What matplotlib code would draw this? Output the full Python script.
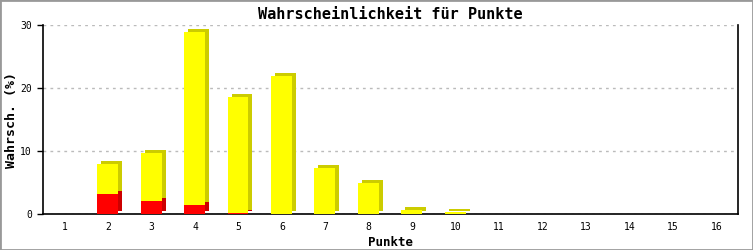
import numpy as np
import matplotlib
matplotlib.use("Agg")
import matplotlib.pyplot as plt
import matplotlib.transforms as mtransforms

# Punkte 1..16, Wahrscheinlichkeit in %
punkte = list(range(1, 17))
gesamt = [0, 7.9, 9.7, 28.9, 18.5, 21.9, 7.3, 4.9, 0.7, 0.3, 0, 0, 0, 0, 0, 0]
rot = [0, 3.2, 2.1, 1.4, 0.15, 0, 0, 0, 0, 0, 0, 0, 0, 0, 0, 0]
gelb = [g - r for g, r in zip(gesamt, rot)]
yticks = [0, 10, 20, 30]

mono = "DejaVu Sans Mono"

fig = plt.figure(figsize=(7.53, 2.5), dpi=100)
ax = fig.add_axes([43 / 753, 36 / 250, 695 / 753, 189 / 250])

x = np.array(punkte, dtype=float)
w = 0.48
xc = x - 0.01

# shadow = offset copy of the bars (4px right, 3px up) for the 3d look
shift = mtransforms.ScaledTranslation(4 / 100, 3 / 100, fig.dpi_scale_trans)
tr = ax.transData + shift
vis = np.array(gesamt) > 0
ax.bar(xc[vis], np.array(rot)[vis], width=w, color="#cc0000", transform=tr, zorder=2)
ax.bar(xc[vis], np.array(gelb)[vis], bottom=np.array(rot)[vis], width=w,
       color="#cccc00", transform=tr, zorder=2)
ax.bar(xc[vis], np.array(rot)[vis], width=w, color="#ff0000", zorder=3)
ax.bar(xc[vis], np.array(gelb)[vis], bottom=np.array(rot)[vis], width=w,
       color="#ffff00", zorder=3)

ax.set_xlim(0.5, 16.5)
ax.set_ylim(0, 30)
ax.set_xticks(punkte)
ax.set_xticklabels([str(p) for p in punkte], fontsize=7, family=mono)
ax.set_yticks(yticks)
ax.set_yticklabels([str(t) for t in yticks], fontsize=7, family=mono)
ax.tick_params(axis="x", length=0, pad=6)
ax.tick_params(axis="y", length=4, width=1, pad=4)
ax.yaxis.grid(True, color="#bbbbbb", linestyle=(0, (2, 3)), linewidth=1)
ax.set_axisbelow(True)
for s in ["left", "bottom", "right"]:
    ax.spines[s].set_linewidth(1.2)
ax.spines["top"].set_visible(False)

ax.set_title("Wahrscheinlichkeit für Punkte", fontsize=11, family=mono,
             fontweight="bold", pad=4)
ax.set_xlabel("Punkte", fontsize=9, family=mono, fontweight="bold", labelpad=3)
ax.set_ylabel("Wahrsch. (%)", fontsize=9.5, family=mono, fontweight="bold",
              va="center")
ax.yaxis.set_label_coords(-31 / 695, 0.5)

fig.patches.append(plt.Rectangle((0, 0), 1, 1, transform=fig.transFigure,
                                 fill=False, edgecolor="#999999", linewidth=2))

fig.savefig("out.png", dpi=100)
